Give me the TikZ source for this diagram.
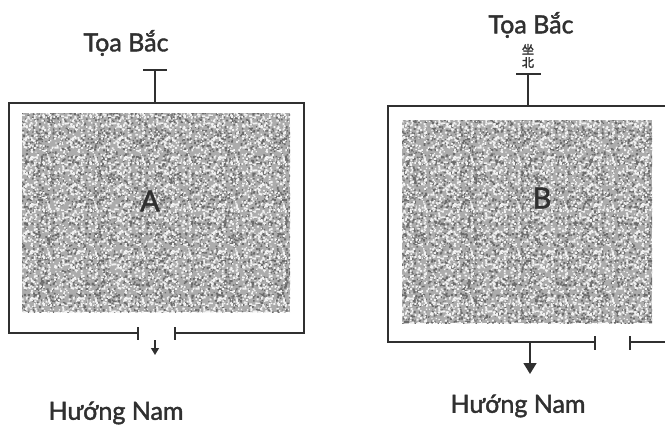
\documentclass[tikz,border=0pt]{standalone}
\usepackage{fontspec}
\setmainfont{Lato}[FakeBold=1.6]
\newfontfamily\capfont{Lato}[FakeBold=1.6]
\newfontfamily\cjk{Noto Sans CJK SC}[FakeBold=2.5]
\usetikzlibrary{arrows.meta, patterns}

\definecolor{ink}{HTML}{303030}
\definecolor{grain}{HTML}{ACACAC}

% speckle tiles for the ground inside the houses
\pgfdeclarepatternformonly{darkgrain}{\pgfpointorigin}{\pgfpoint{61pt}{61pt}}{\pgfpoint{61pt}{61pt}}{
  \pgfmathsetseed{5}
  \foreach \k in {1,...,340}{
    \pgfmathsetmacro{\gx}{rnd*61}
    \pgfmathsetmacro{\gy}{rnd*61}
    \pgfmathsetmacro{\gs}{1.1+rnd*1.1}
    \pgfpathrectangle{\pgfpoint{\gx pt}{\gy pt}}{\pgfpoint{\gs pt}{\gs pt}}
  }
  \pgfusepath{fill}
}
\pgfdeclarepatternformonly{lightgrain}{\pgfpointorigin}{\pgfpoint{47pt}{47pt}}{\pgfpoint{47pt}{47pt}}{
  \pgfmathsetseed{11}
  \foreach \k in {1,...,240}{
    \pgfmathsetmacro{\gx}{rnd*47}
    \pgfmathsetmacro{\gy}{rnd*47}
    \pgfmathsetmacro{\gs}{1.1+rnd*1.1}
    \pgfpathrectangle{\pgfpoint{\gx pt}{\gy pt}}{\pgfpoint{\gs pt}{\gs pt}}
  }
  \pgfusepath{fill}
}

\begin{document}
\begin{tikzpicture}[
    x=1pt, y=-1pt,
    wall/.style={draw=ink, line width=1.7pt},
    tick/.style={draw=ink, line width=1.7pt},
    ground/.style={fill=grain, postaction={pattern=darkgrain, pattern color=black!58},
                   postaction={pattern=lightgrain, pattern color=white!95!black}},
    caption/.style={text=ink, font=\capfont\fontsize{25}{28}\selectfont, inner sep=0pt},
    letter/.style={text=ink, font=\capfont\fontsize{29}{32}\selectfont, inner sep=0pt},
    exitA/.style={draw=ink, line width=1.4pt, -{Triangle[length=7pt,width=8pt]}},
    exitB/.style={draw=ink, line width=1.6pt, -{Triangle[length=11pt,width=13pt]}}
]
    \useasboundingbox (0,0) rectangle (665,431);
    \clip (0,0) rectangle (665,431);

    % house A
    \path [ground] (22,113) rectangle (290,312);
    \node (A) [letter] at (150,201) {A};
    \coordinate (gapAl) at (138,333);
    \coordinate (gapAr) at (175,333);
    \coordinate (topA) at (155,103);
    \coordinate (capA) at (155,70);
    \draw [wall] (gapAl) -| (9,103) -| (304,333) -- (gapAr);
    \draw [tick] (138,327) -- (138,340);
    \draw [tick] (175,327) -- (175,340);
    \draw [wall] (topA) -- (capA);
    \draw [wall] (143,70) -- (167,70);
    \node (northA) [caption] at (126,43) {Tọa Bắc};
    \node (southA) [caption] at (116,413) {Hướng Nam};
    \coordinate (doorA) at (155,340);
    \coordinate (headA) at (155,355);
    \draw [exitA] (doorA) -- (headA);

    % house B
    \path [ground] (402,120) rectangle (652,323);
    \node (B) [letter] at (542,198) {B};
    \coordinate (gapBl) at (595,342);
    \coordinate (gapBr) at (630,342);
    \coordinate (topB) at (528,106);
    \coordinate (capB) at (528,74);
    \draw [wall] (gapBl) -| (388,106) -- (672,106);
    \draw [wall] (gapBr) -- (672,342);
    \draw [tick] (595,336) -- (595,350);
    \draw [tick] (630,336) -- (630,350);
    \draw [wall] (topB) -- (capB);
    \draw [wall] (516,74) -- (541,74);
    \node (zuobei) [text=ink, font=\cjk\fontsize{12}{13}\selectfont, align=center, inner sep=0pt] at (528,56) {坐\\北};
    \node (northB) [caption] at (531,25) {Tọa Bắc};
    \node (southB) [caption] at (518,406) {Hướng Nam};
    \coordinate (doorB) at (530,342);
    \coordinate (headB) at (530,374);
    \draw [exitB] (doorB) -- (headB);
\end{tikzpicture}
\end{document}
